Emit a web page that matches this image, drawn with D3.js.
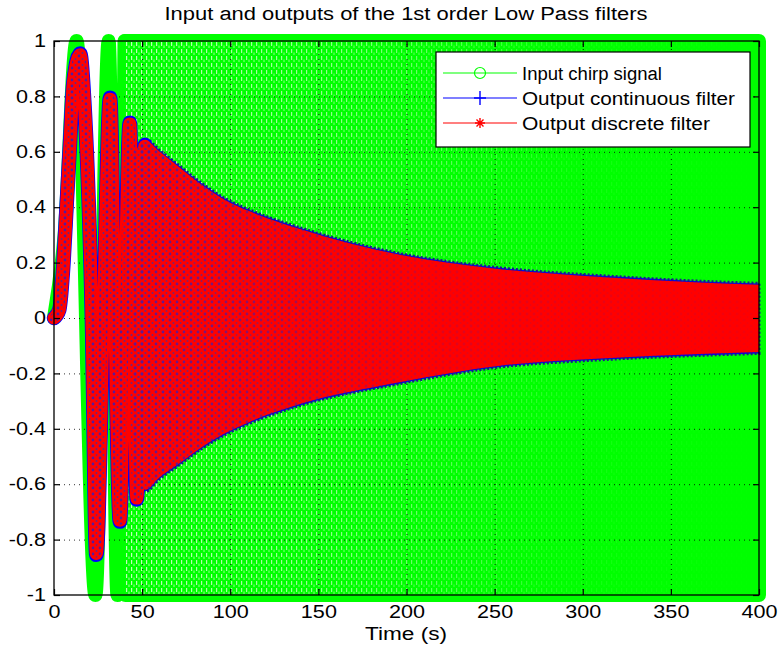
<!DOCTYPE html>
<html>
<head>
<meta charset="utf-8">
<script src="https://cdn.jsdelivr.net/npm/d3@7"></script>
<style>
  body { margin: 0; background: #fff; }
  svg { display: block; font-family: "Liberation Sans", Arial, sans-serif; }
</style>
</head>
<body>
<svg id="chart" width="778" height="657"></svg>
<script>
// input chirp: the slow start, extrema
const inputTime  = [0, 6, 12.8, 23.5, 31, 36, 40];
const inputValue = [0, 0.3, 1, -1, 1, -1, 1];
// after that the input swings too fast to resolve: a full band
const inputBandTime = [40.5, 400];
const inputBandHi   = [1, 1];
const inputBandLo   = [-1, -1];

// discrete filter output, first lobes (extrema and zero crossings)
const discreteTime  = [0, 3, 5.4, 7.1, 9, 11, 14.8, 17.2, 21.5, 24, 28, 31.8, 34.5, 37.4, 40, 43, 45, 47, 49.3, 51.6];
const discreteValue = [0, 0.03, 0.2, 0.4, 0.62, 0.85, 0.95, 0.78, 0, -0.85, 0, 0.79, 0, -0.73, 0, 0.7, 0, -0.65, 0, 0.62];
// envelope of the dense part of the discrete output
const discreteEnvTime = [46, 52, 60, 70, 83, 96, 111, 140, 196, 253, 310, 366, 400];
const discreteEnvHi   = [0.6, 0.64, 0.6, 0.55, 0.485, 0.43, 0.385, 0.32, 0.228, 0.176, 0.148, 0.128, 0.12];
const discreteEnvLo   = [-0.6, -0.62, -0.575, -0.53, -0.47, -0.42, -0.375, -0.31, -0.232, -0.172, -0.146, -0.13, -0.123];

// continuous filter output, almost on top of the discrete one
const continuousTime  = [0, 3, 5.4, 7.1, 9, 11, 14.8, 17.2, 21.5, 24, 28, 31.8, 34.5, 37.4, 40, 43, 45, 47, 49.3, 51.6];
const continuousValue = [0, 0.03, 0.2, 0.4, 0.62, 0.85, 0.955, 0.78, 0, -0.855, 0, 0.795, 0, -0.735, 0, 0.705, 0, -0.655, 0, 0.625];
const continuousEnvTime = [46, 52, 60, 70, 83, 96, 111, 140, 196, 253, 310, 366, 400];
const continuousEnvHi   = [0.605, 0.645, 0.605, 0.555, 0.49, 0.435, 0.39, 0.325, 0.233, 0.181, 0.153, 0.133, 0.125];
const continuousEnvLo   = [-0.605, -0.625, -0.58, -0.535, -0.475, -0.425, -0.38, -0.315, -0.237, -0.177, -0.151, -0.135, -0.128];

const xTicks = [0, 50, 100, 150, 200, 250, 300, 350, 400];
const yTicks = [-1, -0.8, -0.6, -0.4, -0.2, 0, 0.2, 0.4, 0.6, 0.8, 1];
const yTickLabels = ['-1', '-0.8', '-0.6', '-0.4', '-0.2', '0', '0.2', '0.4', '0.6', '0.8', '1'];

const seriesNames = ['Input chirp signal', 'Output continuous filter', 'Output discrete filter'];

const GREEN = '#00ff00', BLUE = '#0000ff', RED = '#ff0000';
const FONT = 18, STRETCH = 1.2;

const svg = d3.select('#chart');
const x = d3.scaleLinear().domain([0, 400]).range([54, 759]);
const y = d3.scaleLinear().domain([-1, 1]).range([595, 41]);

svg.append('rect').attr('width', 778).attr('height', 657).attr('fill', '#fff');

const defs = svg.append('defs');

// pale streaks that the circle markers leave in the input band
const speck = defs.append('pattern').attr('id', 'speck')
  .attr('patternUnits', 'userSpaceOnUse').attr('width', 5).attr('height', 7);
speck.append('rect').attr('x', 1).attr('y', 0).attr('width', 1.2).attr('height', 4).attr('fill', '#d8ffd0');
speck.append('rect').attr('x', 3.5).attr('y', 3.5).attr('width', 1).attr('height', 2.5).attr('fill', '#b8ffb0');

// blue '+' markers showing between the red '*' markers
const mix = defs.append('pattern').attr('id', 'mix')
  .attr('patternUnits', 'userSpaceOnUse').attr('width', 7).attr('height', 6);
mix.append('circle').attr('cx', 2).attr('cy', 2).attr('r', 1.4).attr('fill', '#2222cc');
mix.append('circle').attr('cx', 5.5).attr('cy', 5).attr('r', 1).attr('fill', '#3030b0');

function fadeMask(id, stops) {
  const g = defs.append('linearGradient').attr('id', id + '-g')
    .attr('gradientUnits', 'userSpaceOnUse')
    .attr('x1', x(0)).attr('x2', x(400)).attr('y1', 0).attr('y2', 0);
  stops.forEach(s => g.append('stop').attr('offset', s[0] / 400)
    .attr('stop-color', '#fff').attr('stop-opacity', s[1]));
  defs.append('mask').attr('id', id).attr('maskUnits', 'userSpaceOnUse')
    .attr('x', 0).attr('y', 0).attr('width', 778).attr('height', 657)
    .append('rect').attr('width', 778).attr('height', 657).attr('fill', `url(#${id}-g)`);
}
fadeMask('greenFade', [[40, 0.9], [150, 0.7], [230, 0.4], [300, 0.1], [400, 0]]);
fadeMask('blueFade', [[0, 0.8], [60, 0.7], [130, 0.45], [220, 0.15], [400, 0.05]]);

const line = d3.line().x(d => x(d[0])).y(d => y(d[1])).curve(d3.curveMonotoneX);
const area = d3.area().x(d => x(d[0])).y0(d => y(d[2])).y1(d => y(d[1])).curve(d3.curveMonotoneX);

// input chirp
const inputLine = d3.zip(inputTime, inputValue);
const inputBand = d3.zip(inputBandTime, inputBandHi, inputBandLo);
svg.append('path').attr('d', area(inputBand)).attr('fill', GREEN)
  .attr('stroke', GREEN).attr('stroke-width', 14).attr('stroke-linejoin', 'round');
svg.append('path').attr('d', line(inputLine)).attr('fill', 'none')
  .attr('stroke', GREEN).attr('stroke-width', 14)
  .attr('stroke-linecap', 'round').attr('stroke-linejoin', 'round');
svg.append('path').attr('d', area(inputBand)).attr('fill', 'url(#speck)')
  .attr('mask', 'url(#greenFade)');

// dotted grid
const grid = svg.append('g');
grid.append('g').attr('transform', 'translate(0,595)')
  .call(d3.axisBottom(x).tickValues(xTicks.slice(1, -1)).tickSize(-554).tickFormat(''));
grid.append('g').attr('transform', 'translate(54,0)')
  .call(d3.axisLeft(y).tickValues(yTicks.slice(1, -1)).tickSize(-705).tickFormat(''));
grid.selectAll('.domain').remove();
grid.selectAll('line').attr('stroke', '#000').attr('stroke-width', 1)
  .attr('stroke-dasharray', '1,4').attr('opacity', 0.8);

// continuous output (blue) under the discrete one
svg.append('path').attr('d', area(d3.zip(continuousEnvTime, continuousEnvHi, continuousEnvLo)))
  .attr('fill', BLUE).attr('stroke', '#1a1a90').attr('stroke-width', 3)
  .attr('stroke-dasharray', '2,2');
svg.append('path').attr('d', line(d3.zip(continuousTime, continuousValue))).attr('fill', 'none')
  .attr('stroke', BLUE).attr('stroke-width', 14.5)
  .attr('stroke-linecap', 'round').attr('stroke-linejoin', 'round');

// discrete output (red)
const redLine = line(d3.zip(discreteTime, discreteValue));
const redBand = area(d3.zip(discreteEnvTime, discreteEnvHi, discreteEnvLo));
svg.append('path').attr('d', redBand).attr('fill', RED);
svg.append('path').attr('d', redLine).attr('fill', 'none')
  .attr('stroke', RED).attr('stroke-width', 13)
  .attr('stroke-linecap', 'round').attr('stroke-linejoin', 'round');
const mixed = svg.append('g').attr('mask', 'url(#blueFade)');
mixed.append('path').attr('d', redBand).attr('fill', 'url(#mix)');
mixed.append('path').attr('d', redLine).attr('fill', 'none')
  .attr('stroke', 'url(#mix)').attr('stroke-width', 9)
  .attr('stroke-linecap', 'round').attr('stroke-linejoin', 'round');

// axes box with inward ticks
function styleAxis(g) {
  g.select('.domain').remove();
  g.selectAll('line').attr('stroke', '#000').attr('stroke-width', 1.2);
  g.selectAll('text').attr('fill', '#000').style('font-size', FONT + 'px');
}
const axBottom = svg.append('g').attr('transform', 'translate(0,595)')
  .call(d3.axisBottom(x).tickValues(xTicks).tickSize(-6).tickPadding(10).tickFormat(d => String(d)))
  .call(styleAxis);
axBottom.selectAll('text').attr('transform', `scale(${STRETCH},1)`);
svg.append('g').attr('transform', 'translate(0,41)')
  .call(d3.axisTop(x).tickValues(xTicks).tickSize(-6).tickFormat(''))
  .call(styleAxis);
const axLeft = svg.append('g').attr('transform', 'translate(54,0)')
  .call(d3.axisLeft(y).tickValues(yTicks).tickSize(-6).tickFormat((d, i) => yTickLabels[i]))
  .call(styleAxis);
axLeft.selectAll('text').attr('x', 0).attr('transform', `translate(-8,0) scale(${STRETCH},1)`);
svg.append('g').attr('transform', 'translate(759,0)')
  .call(d3.axisRight(y).tickValues(yTicks).tickSize(-6).tickFormat(''))
  .call(styleAxis);
svg.append('rect').attr('x', 54).attr('y', 41).attr('width', 705).attr('height', 554)
  .attr('fill', 'none').attr('stroke', '#000').attr('stroke-width', 1.3);

// legend
const legend = svg.append('g').attr('transform', 'translate(436,52)');
legend.append('rect').attr('width', 314).attr('height', 95)
  .attr('fill', '#fff').attr('stroke', '#000').attr('stroke-width', 1.2);
const legendColors = [GREEN, BLUE, RED];
const legendWidths = [140, 213, 188];
seriesNames.forEach((name, i) => {
  const row = legend.append('g').attr('transform', `translate(0,${21 + i * 25})`);
  row.append('line').attr('x1', 7).attr('x2', 81).attr('stroke', legendColors[i]).attr('stroke-width', 1.2);
  if (i === 0) {
    row.append('circle').attr('cx', 44).attr('r', 5.5).attr('fill', 'none')
      .attr('stroke', GREEN).attr('stroke-width', 1.2);
  } else if (i === 1) {
    row.append('path').attr('d', 'M38,0H50M44,-7V7').attr('stroke', BLUE).attr('stroke-width', 1.4);
  } else {
    row.append('path').attr('d', 'M39,0H49M44,-5V5M40.5,-3.5L47.5,3.5M40.5,3.5L47.5,-3.5')
      .attr('stroke', RED).attr('stroke-width', 1.4);
  }
  row.append('text').attr('x', 86).attr('y', 6.5)
    .attr('textLength', legendWidths[i]).attr('lengthAdjust', 'spacingAndGlyphs')
    .style('font-size', FONT + 'px').text(name);
});

// title and x label
svg.append('text').attr('x', 406).attr('y', 20).attr('text-anchor', 'middle')
  .attr('textLength', 483).attr('lengthAdjust', 'spacingAndGlyphs')
  .style('font-size', FONT + 'px')
  .text('Input and outputs of the 1st order Low Pass filters');
svg.append('text').attr('x', 406).attr('y', 640).attr('text-anchor', 'middle')
  .attr('textLength', 82).attr('lengthAdjust', 'spacingAndGlyphs')
  .style('font-size', FONT + 'px')
  .text('Time (s)');
</script>
</body>
</html>
